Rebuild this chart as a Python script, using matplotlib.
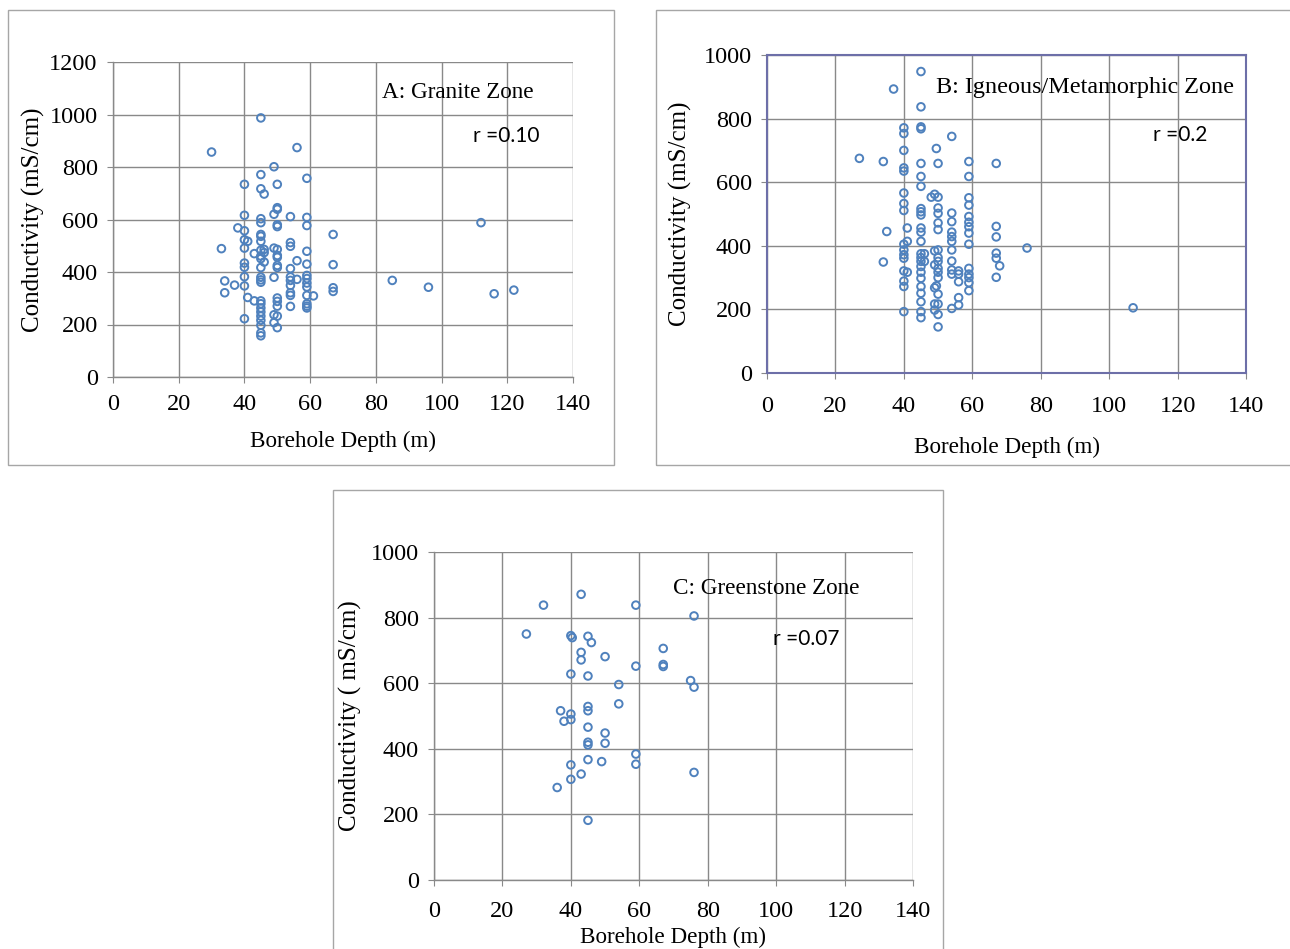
"""Conductivity vs borehole depth for three geological zones."""

import matplotlib
matplotlib.use("Agg")
import matplotlib.pyplot as plt
from matplotlib.patches import Rectangle

# --- data (depth m, conductivity mS/cm) ---
granite_depth = [30, 45, 56, 49, 45, 59, 40, 50, 45, 46, 50, 50, 49, 54, 40, 45, 45, 59, 59, 50,
                 50, 38, 40, 112, 67, 45, 45, 40, 41, 45, 54, 54, 33, 40, 49, 50, 46, 43, 45, 46,
                 45, 50, 50, 59, 56, 46, 45, 67, 40, 40, 50, 50, 45, 54, 59, 49, 40, 45, 45, 45,
                 34, 85, 56, 54, 54, 54, 59, 59, 59, 59, 37, 40, 67, 67, 96, 122, 116, 34, 54, 54,
                 59, 61, 41, 50, 43, 45, 45, 50, 50, 54, 59, 59, 59, 45, 45, 45, 49, 50, 40, 45,
                 49, 45, 50, 45, 45]
granite_cond = [857, 987, 874, 801, 771, 757, 734, 734, 717, 697, 645, 639, 620, 611, 616, 603, 588, 608, 577, 580,
                573, 568, 557, 588, 543, 543, 536, 523, 517, 517, 512, 498, 489, 491, 491, 486, 486, 470, 483, 474,
                461, 463, 456, 479, 443, 438, 451, 428, 434, 418, 425, 417, 417, 413, 430, 380, 382, 380, 370, 361,
                366, 368, 372, 381, 368, 349, 387, 375, 358, 343, 350, 347, 340, 326, 342, 331, 317, 321, 321, 311,
                311, 309, 303, 301, 290, 290, 279, 288, 270, 269, 279, 270, 263, 263, 248, 232, 237, 232, 222, 216,
                207, 197, 188, 168, 157]

igneous_depth = [45, 37, 45, 45, 45, 40, 40, 54, 40, 49.5, 27, 34, 45, 50, 59, 67, 40, 40, 45, 59,
                 45, 40, 49, 48, 50, 59, 40, 59, 40, 45, 45, 45, 50, 50, 54, 59, 54, 50, 59, 59,
                 67, 41, 45, 45, 35, 50, 54, 54, 54, 59, 67, 41, 45, 59, 40, 76, 40, 49, 50, 54,
                 45, 46, 67, 40, 40, 45, 50, 67, 34, 45, 46, 54, 49, 50, 68, 45, 59, 50, 54, 56,
                 40, 41, 45, 50, 54, 56, 59, 59, 67, 45, 50, 40, 56, 59, 40, 45, 49, 49.5, 59, 45,
                 50, 56, 45, 49, 50, 56, 54, 107, 40, 45, 49, 50, 45, 50]
igneous_cond = [948, 893, 837, 774, 768, 771, 753, 744, 700, 706, 675, 665, 659, 659, 665, 659, 645, 635, 618, 618,
                587, 566, 562, 553, 553, 551, 533, 528, 511, 517, 507, 497, 519, 502, 503, 492, 476, 472, 474, 460,
                461, 456, 456, 443, 445, 451, 443, 429, 414, 440, 428, 414, 414, 405, 405, 393, 387, 384, 387, 387,
                375, 375, 377, 372, 361, 363, 363, 361, 349, 351, 351, 352, 340, 351, 337, 335, 329, 329, 324, 321,
                321, 317, 317, 317, 311, 311, 311, 300, 301, 298, 300, 289, 287, 284, 272, 272, 268, 274, 259, 251,
                248, 237, 224, 217, 217, 214, 203, 205, 193, 193, 198, 184, 174, 145]

green_depth = [43, 32, 59, 76, 27, 40, 40.4, 45, 46, 67, 43, 50, 43, 59, 67, 67, 40, 45, 75, 76,
               54, 54, 45, 45, 37, 40, 38, 40, 45, 50, 50, 45, 45, 59, 45, 49, 59, 40, 76, 43,
               40, 36, 45]
green_cond = [871, 838, 838, 805, 750, 745, 739, 743, 724, 706, 694, 681, 671, 652, 657, 651, 628, 622, 608, 588,
              596, 537, 529, 516, 516, 506, 484, 489, 466, 448, 417, 420, 412, 384, 367, 361, 353, 351, 328, 323,
              307, 282, 182]

x_ticks = [0, 20, 40, 60, 80, 100, 120, 140]
y_ticks_a = [0, 200, 400, 600, 800, 1000, 1200]
y_ticks_bc = [0, 200, 400, 600, 800, 1000]

BLUE = "#4F81BD"
GRID = "#898989"
SERIF = ["Liberation Serif", "DejaVu Serif"]
SANS = ["Lato", "Liberation Sans", "DejaVu Sans"]

fig = plt.figure(figsize=(12.9, 9.49), dpi=100)
W, H = 1290, 949


def px_rect(x0, y0, x1, y1):
    # rectangle in figure pixels (origin top-left) -> figure fraction
    return [x0 / W, 1 - y1 / H, (x1 - x0) / W, (y1 - y0) / H]


def panel(rect, xs, ys, yticks, ylabel, title, title_xy, title_size, rtxt, r_xy,
          xpad, xlab_y, ylab_x, boxed=False):
    ax = fig.add_axes(px_rect(*rect))
    ax.scatter(xs, ys, s=30, facecolors="none", edgecolors=BLUE, linewidths=1.4, zorder=3)
    ax.set_xlim(0, 140)
    ax.set_ylim(0, yticks[-1])
    ax.set_xticks(x_ticks)
    ax.set_yticks(yticks)
    ax.grid(True, color=GRID, linewidth=1.0)
    ax.set_axisbelow(True)
    for side in ["top", "right"]:
        ax.spines[side].set_visible(boxed)
    for side in ["left", "bottom"]:
        ax.spines[side].set_color(GRID)
        ax.spines[side].set_linewidth(1.0)
    if boxed:
        for side in ax.spines:
            ax.spines[side].set_color("#6d6fa8")
            ax.spines[side].set_linewidth(1.5)
    ax.tick_params(direction="out", length=4, color=GRID, labelsize=17.5)
    ax.tick_params(axis="x", pad=xpad)
    ax.tick_params(axis="y", pad=7)
    for lab in ax.get_xticklabels() + ax.get_yticklabels():
        lab.set_family(SERIF)
    ax.set_xlabel("Borehole Depth (m)", family=SERIF, fontsize=16.7, va="center")
    ax.set_ylabel(ylabel, family=SERIF, fontsize=18, va="center", ha="center")
    ax.xaxis.set_label_coords(0.5, xlab_y)
    ax.yaxis.set_label_coords(ylab_x, 0.5)
    ax.text(*title_xy, title, family=SERIF, fontsize=title_size, va="center", ha="left")
    ax.text(*r_xy, rtxt, family=SANS, fontsize=15, va="center", ha="left")
    return ax


# panel outlines (chart areas)
for x0, y0, x1, y1 in [(8, 10, 614, 465), (656, 10, 1300, 465), (333, 490, 943, 960)]:
    fig.patches.append(Rectangle((x0 / W, 1 - y1 / H), (x1 - x0) / W, (y1 - y0) / H,
                                 transform=fig.transFigure, fill=False,
                                 edgecolor="#a6a6a6", linewidth=1.0))

panel((113, 62, 573, 377), granite_depth, granite_cond, y_ticks_a, "Conductivity (mS/cm)",
      "A: Granite Zone", (82, 1082), 16.7, "r =0.10", (109.5, 918),
      xpad=8, xlab_y=-0.203, ylab_x=-0.174)
panel((767, 55, 1246, 373), igneous_depth, igneous_cond, y_ticks_bc, "Conductivity (mS/cm)",
      "B: Igneous/Metamorphic Zone", (49.4, 899), 17.4, "r =0.2", (112.8, 748),
      xpad=12.5, xlab_y=-0.233, ylab_x=-0.18, boxed=True)
panel((434, 552, 913, 880), green_depth, green_cond, y_ticks_bc, "Conductivity ( mS/cm)",
      "C: Greenstone Zone", (69.9, 890), 16.7, "r =0.07", (99.1, 735),
      xpad=11, xlab_y=-0.174, ylab_x=-0.175)

fig.savefig("out.png", dpi=100)
